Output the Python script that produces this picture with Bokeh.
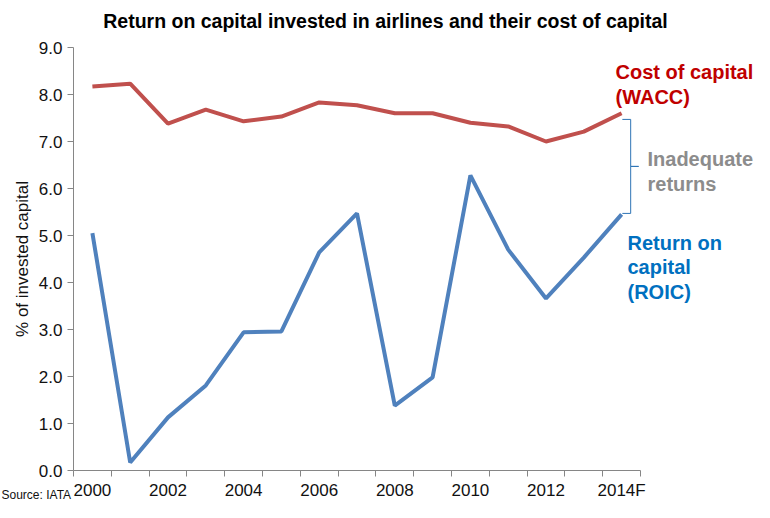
from bokeh.plotting import figure
from bokeh.models import FixedTicker, PrintfTickFormatter, Label, Range1d
from bokeh.embed import file_html
from bokeh.resources import INLINE
import numpy as np

years = ["2000", "2001", "2002", "2003", "2004", "2005", "2006", "2007",
         "2008", "2009", "2010", "2011", "2012", "2013", "2014F"]
wacc = [8.17, 8.23, 7.38, 7.68, 7.43, 7.53, 7.83, 7.77, 7.60, 7.60, 7.40, 7.32, 7.00, 7.21, 7.60]
roic = [5.05, 0.17, 1.13, 1.81, 2.94, 2.96, 4.64, 5.47, 1.38, 1.98, 6.28, 4.70, 3.66, 4.53, 5.45]
y_ticks = [0, 1, 2, 3, 4, 5, 6, 7, 8, 9]

FONT = "Liberation Sans"
n = len(years)
xs = np.arange(n) + 0.5

W, H = 754, 502
SHIFT = 5                               # move everything up a little so the axis labels fit
LEFT, TOP, FW, FH = 73, 52 - SHIFT, 567, 423   # plotting area in canvas pixels
sx = FW / n
sy = FH / 9.0

def dx(px):
    return (px - LEFT) / sx

def dy(py):
    return (TOP + FH - py) / sy

def ry(py):  # position
    return dy(py - SHIFT)

p = figure(width=W, height=H, output_backend="svg", toolbar_location=None, title=None,
           x_range=Range1d(dx(0), dx(W)), y_range=Range1d(dy(H), dy(0)),
           min_border=0)
p.outline_line_color = None
p.xgrid.visible = False
p.ygrid.visible = False
p.background_fill_color = "white"
p.border_fill_color = "white"

p.line(xs, wacc, line_color="#C0504D", line_width=4)
p.line(xs, roic, line_color="#4F81BD", line_width=4)

# bracket between the two 2014F values
top = wacc[-1] - 0.13
bot = roic[-1] + 0.02
mid = (top + bot) / 2
bx = [14.52, 14.74, 14.74, 14.95, 14.74, 14.74, 14.52]
by = [top, top, mid, mid, mid, bot, bot]
p.line(bx, by, line_color="#2E75B6", line_width=1)

# axes
xa = p.xaxis[0]
xa.fixed_location = 0
xa.bounds = (0, n)
xa.ticker = FixedTicker(ticks=[float(v) for v in xs[::2]], minor_ticks=list(range(n + 1)))
xa.major_label_overrides = {float(xs[i]): years[i] for i in range(0, n, 2)}
xa.major_tick_out = 0
xa.major_tick_in = 0
xa.minor_tick_out = 6
xa.minor_tick_in = 0
xa.axis_line_color = "#868686"
xa.minor_tick_line_color = "#868686"
xa.major_label_text_font = FONT
xa.major_label_text_font_size = "17px"
xa.major_label_text_color = "#111111"
xa.major_label_standoff = 4

ya = p.yaxis[0]
ya.fixed_location = 0
ya.bounds = (0, 9)
ya.ticker = FixedTicker(ticks=y_ticks, minor_ticks=[])
ya.formatter = PrintfTickFormatter(format="%.1f")
ya.major_tick_out = 6
ya.major_tick_in = 0
ya.minor_tick_out = 0
ya.axis_line_color = "#868686"
ya.major_tick_line_color = "#868686"
ya.major_label_text_font = FONT
ya.major_label_text_font_size = "17px"
ya.major_label_text_color = "#111111"
ya.major_label_standoff = 5
ya.axis_label = "% of invested capital"
ya.axis_label_text_font = FONT
ya.axis_label_text_font_size = "17px"
ya.axis_label_text_font_style = "normal"
ya.axis_label_text_color = "#111111"
ya.axis_label_standoff = 4

def lab(text, x, y, color, size, style="bold", align="left", baseline="middle"):
    p.add_layout(Label(x=x, y=y, text=text, text_color=color, text_font=FONT,
                       text_font_size=size, text_font_style=style,
                       text_align=align, text_baseline=baseline))

lab("Return on capital invested in airlines and their cost of capital", dx(385), ry(25), "#000000", "19.5px", align="center")
lab("Cost of capital", dx(615), ry(76), "#C00000", "20px")
lab("(WACC)", dx(615), ry(101), "#C00000", "20px")
lab("Inadequate", dx(647), ry(163), "#8C8C8C", "20px")
lab("returns", dx(647), ry(188), "#8C8C8C", "20px")
lab("Return on", dx(627), ry(247), "#0070C0", "20px")
lab("capital", dx(627), ry(271), "#0070C0", "20px")
lab("(ROIC)", dx(627), ry(296), "#0070C0", "20px")
lab("Source: IATA", dx(1), dy(H - 1), "#111111", "12px", style="normal", baseline="bottom")

open("out.html", "w").write(file_html(p, INLINE))
